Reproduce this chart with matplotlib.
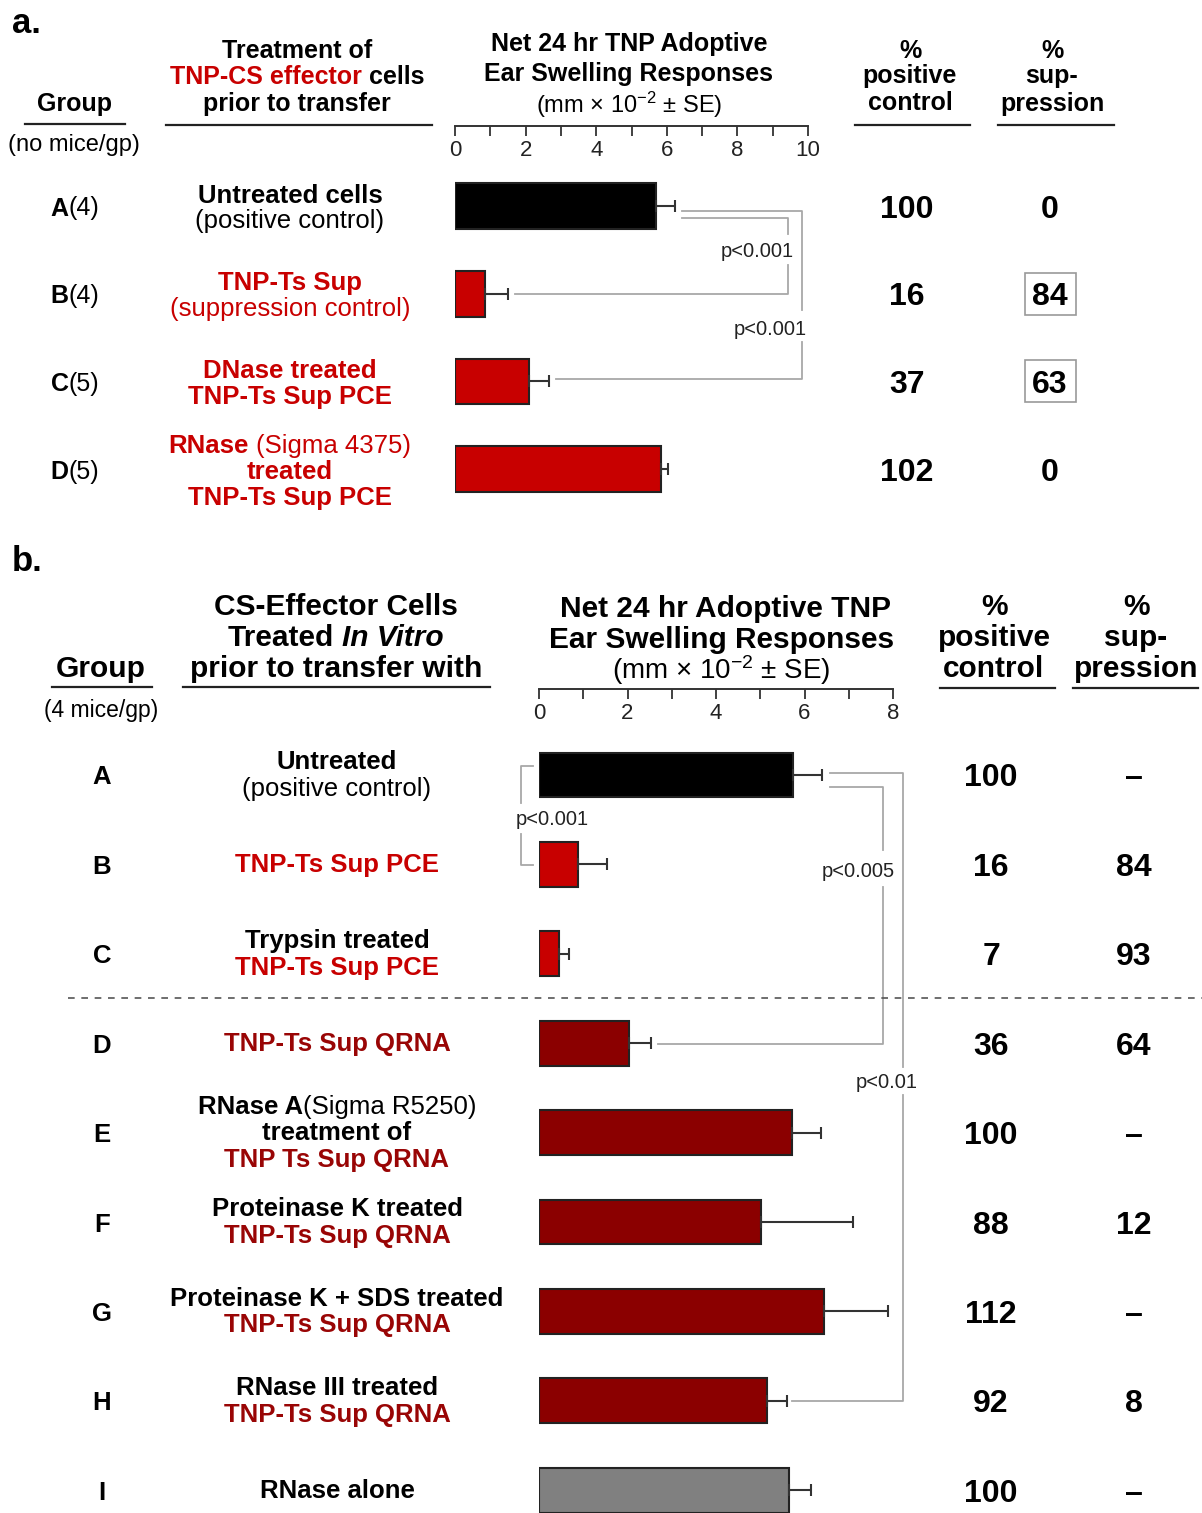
import numpy as np
import matplotlib
matplotlib.use('Agg')
import matplotlib.pyplot as plt
from matplotlib.lines import Line2D
from matplotlib.patches import Rectangle
from matplotlib.transforms import Affine2D, IdentityTransform, blended_transform_factory

plt.rcParams['font.family'] = ['Liberation Sans', 'DejaVu Sans']
plt.rcParams['mathtext.fontset'] = 'custom'
plt.rcParams['mathtext.rm'] = 'Liberation Sans'
plt.rcParams['mathtext.it'] = 'Liberation Sans:italic'
plt.rcParams['mathtext.bf'] = 'Liberation Sans:bold'

W, H = 1202, 1513
RED = '#c80000'
DRED = '#8b0000'
TXT_DRED = '#990505'
GREY_LINE = '#a8a8a8'

# ---------------- data: panel a ----------------
a_groups = ['A', 'B', 'C', 'D']
a_mice = ['(4)', '(4)', '(5)', '(5)']
a_resp = [5.69, 0.85, 2.10, 5.84]
a_se = [0.54, 0.65, 0.57, 0.18]
a_pos = ['100', '16', '37', '102']
a_sup = ['0', '84', '63', '0']
a_boxed = [False, True, True, False]
a_colors = ['black', RED, RED, RED]
a_labels = [
    [[('Untreated cells', 'bold', 'k')], [('(positive control)', 'normal', 'k')]],
    [[('TNP-Ts Sup', 'bold', RED)], [('(suppression control)', 'normal', RED)]],
    [[('DNase treated', 'bold', RED)], [('TNP-Ts Sup PCE', 'bold', RED)]],
    [[('RNase', 'bold', RED), (' (Sigma 4375)', 'normal', RED)],
     [('treated', 'bold', RED)], [('TNP-Ts Sup PCE', 'bold', RED)]],
]

# ---------------- data: panel b ----------------
b_groups = ['A', 'B', 'C', 'D', 'E', 'F', 'G', 'H', 'I']
b_resp = [5.74, 0.88, 0.45, 2.03, 5.72, 5.02, 6.44, 5.15, 5.65]
b_se = [0.66, 0.65, 0.22, 0.50, 0.65, 2.08, 1.45, 0.45, 0.50]
b_pos = ['100', '16', '7', '36', '100', '88', '112', '92', '100']
b_sup = ['\u2013', '84', '93', '64', '\u2013', '12', '\u2013', '8', '\u2013']
b_colors = ['black', RED, RED, DRED, DRED, DRED, DRED, DRED, 'grey']
qrna = ('TNP-Ts Sup QRNA', 'bold', TXT_DRED)
b_labels = [
    [[('Untreated', 'bold', 'k')], [('(positive control)', 'normal', 'k')]],
    [[('TNP-Ts Sup PCE', 'bold', RED)]],
    [[('Trypsin treated', 'bold', 'k')], [('TNP-Ts Sup PCE', 'bold', RED)]],
    [[qrna]],
    [[('RNase A', 'bold', 'k'), ('(Sigma R5250)', 'normal', 'k')],
     [('treatment of', 'bold', 'k')], [('TNP Ts Sup QRNA', 'bold', TXT_DRED)]],
    [[('Proteinase K treated', 'bold', 'k')], [qrna]],
    [[('Proteinase K + SDS treated', 'bold', 'k')], [qrna]],
    [[('RNase III treated', 'bold', 'k')], [qrna]],
    [[('RNase alone', 'bold', 'k')]],
]

fig = plt.figure(figsize=(W / 100, H / 100), dpi=100)
pxT = Affine2D().scale(1, -1).translate(0, H)   # pixel coords, y from top
renderer = fig.canvas.get_renderer()


def add_axes_px(x0, y0, x1, y1):
    return fig.add_axes([x0 / W, 1 - y1 / H, (x1 - x0) / W, (y1 - y0) / H])


def rich(x, y, parts, size, trans=pxT):
    # a centred line made of segments with their own weight / colour / style
    arts, widths = [], []
    for p in parts:
        s, weight, color = p[:3]
        style = p[3] if len(p) > 3 else 'normal'
        lead = 0
        if s.startswith(' '):
            lead = 0.278 * size * 100 / 72
            s = s.lstrip()
        t = fig.text(0, 0, s, fontsize=size, fontweight=weight, color=color,
                     fontstyle=style, ha='left', va='center_baseline')
        arts.append((t, lead))
        widths.append(lead + t.get_window_extent(renderer).width)
    X, Y = trans.transform((x, y))
    cur = X - sum(widths) / 2
    for (t, lead), w in zip(arts, widths):
        t.set_transform(IdentityTransform())
        t.set_position((cur + lead, Y))
        cur += w


def txt(x, y, s, size, weight='bold', color='k', trans=pxT, ha='center'):
    fig.text(x, y, s, fontsize=size, fontweight=weight, color=color,
             ha=ha, va='center_baseline', transform=trans)


def hline(x0, x1, y, lw=1.6):
    fig.add_artist(Line2D([x0, x1], [y, y], transform=pxT, color='#222', lw=lw))


def scale_axis(x0, x1, y, xmax):
    sa = add_axes_px(x0, y, x1, y + 1)
    sa.set_facecolor('none')
    for s in ['top', 'left', 'right']:
        sa.spines[s].set_visible(False)
    sa.spines['bottom'].set_linewidth(1.4)
    sa.spines['bottom'].set_color('#333')
    sa.set_xlim(0, xmax)
    sa.set_yticks([])
    sa.set_xticks(np.arange(0, xmax + 1, 2))
    sa.set_xticks(np.arange(1, xmax, 2), minor=True)
    sa.tick_params(which='both', direction='out', length=7, width=1.3,
                   color='#333', labelsize=16, pad=3, labelcolor='#222')


def bracket(ax, x_top, y_top, x_line, y_bot, x_bot, gap, label, lpos, ha='right'):
    kw = dict(color=GREY_LINE, lw=1.3, clip_on=False)
    ax.plot([x_top, x_line, x_line], [y_top, y_top, gap[0]], **kw)
    ax.plot([x_line, x_line, x_bot], [gap[1], y_bot, y_bot], **kw)
    ax.text(lpos[0], lpos[1], label, ha=ha, va='center_baseline', fontsize=14.5,
            color='#222', clip_on=False)


def bars(ax, resp, se, colors, height):
    rows = np.arange(len(resp))
    ax.barh(rows, resp, height=height, color=colors, edgecolor='#222', linewidth=1.5)
    ax.errorbar(resp, rows, xerr=[np.zeros(len(se)), se], fmt='none', ecolor='#333',
                elinewidth=1.5, capsize=4.5, capthick=1.5)
    ax.axis('off')
    return rows


# =============== panel a ===============
txt(12, 20, 'a.', 25, ha='left')
txt(75, 101, 'Group', 18)
hline(25, 125, 124)
txt(74, 143, '(no mice/gp)', 17, weight='normal')
txt(297, 48, 'Treatment of', 18)
rich(297, 74, [('TNP-CS effector', 'bold', RED), (' cells', 'bold', 'k')], 18)
txt(297, 101, 'prior to transfer', 18)
hline(166, 432, 125)
txt(629, 41, 'Net 24 hr TNP Adoptive', 18)
txt(629, 72, 'Ear Swelling Responses', 18)
txt(629, 101, r'(mm $\times$ 10$^{-2}$ $\pm$ SE)', 17, weight='normal')
for x, words in [(910, ['%', 'positive', 'control']), (1052, ['%', 'sup-', 'pression'])]:
    for y, w in zip([48, 74, 101], words):
        txt(x, y, w, 18)
hline(855, 970, 125)
hline(998, 1114, 125)

axA = add_axes_px(455, 125, 808, 520)
axA.set_xlim(0, 10)
axA.set_ylim((520 - 206) / 87.7, (125 - 206) / 87.7)
rowsA = bars(axA, a_resp, a_se, a_colors, 0.52)
scale_axis(455, 808, 125, 10)

tA = blended_transform_factory(pxT, axA.transData)
for i in rowsA:
    rich(75, i, [(a_groups[i], 'bold', 'k'), (a_mice[i], 'normal', 'k')], 18, trans=tA)
    lines = a_labels[i]
    for k, line in enumerate(lines):
        rich(290, i + (k - (len(lines) - 1) / 2) * 0.296, line, 18.5, trans=tA)
    txt(907, i, a_pos[i], 23, trans=tA)
    txt(1050, i, a_sup[i], 23, trans=tA)
    if a_boxed[i]:
        fig.add_artist(Rectangle((1025, i - 0.24), 51, 0.48, transform=tA,
                                 fill=False, ec='#999999', lw=1.2))

endA = np.add(a_resp, a_se)
bracket(axA, endA[0] + 0.2, 0.14, 9.43, 1.0, endA[1] + 0.2, (0.32, 0.67),
        'p<0.001', (9.6, 0.5))
bracket(axA, endA[0] + 0.2, 0.06, 9.83, 1.97, endA[2] + 0.2, (1.19, 1.55),
        'p<0.001', (9.98, 1.38))

# =============== panel b ===============
txt(12, 558, 'b.', 25, ha='left')
txt(101, 666, 'Group', 21.5)
hline(52, 152, 687)
txt(101, 708, '(4 mice/gp)', 16.5, weight='normal')
txt(336, 604, 'CS-Effector Cells', 21.5)
rich(336, 635, [('Treated', 'bold', 'k'), (' In Vitro', 'bold', 'k', 'italic')], 21.5)
txt(336, 666, 'prior to transfer with', 21.5)
hline(183, 490, 687)
txt(726, 606, 'Net 24 hr Adoptive TNP', 21.5)
txt(722, 637, 'Ear Swelling Responses', 21.5)
txt(721, 666, r'(mm $\times$ 10$^{-2}$ $\pm$ SE)', 20, weight='normal')
for x, words in [(994, ['%', 'positive', 'control']), (1136, ['%', 'sup-', 'pression'])]:
    for y, w in zip([604, 635, 666], words):
        txt(x, y, w, 21.5)
hline(940, 1055, 688)
hline(1073, 1198, 688)

axB = add_axes_px(539, 688, 893, 1513)
axB.set_xlim(0, 8)
axB.set_ylim((1513 - 775) / 89.4, (688 - 775) / 89.4)
rowsB = bars(axB, b_resp, b_se, b_colors, 0.5)
scale_axis(539, 893, 688, 8)

tB = blended_transform_factory(pxT, axB.transData)
for i in rowsB:
    txt(102, i, b_groups[i], 18.5, trans=tB)
    lines = b_labels[i]
    for k, line in enumerate(lines):
        rich(337, i - 0.02 + (k - (len(lines) - 1) / 2) * 0.296, line, 18.5, trans=tB)
    txt(991, i, b_pos[i], 23, trans=tB)
    txt(1134, i, b_sup[i], 23, trans=tB)

fig.add_artist(Line2D([68, 1202], [2.5, 2.5], transform=tB, color='#555',
                      lw=1.2, ls=(0, (4, 4))))

endB = np.add(b_resp, b_se)
bracket(axB, -0.14, -0.1, -0.41, 1.01, -0.14, (0.31, 0.66), 'p<0.001',
        (0.29, 0.48), ha='center')
bracket(axB, endB[0] + 0.18, 0.13, 7.77, 3.01, endB[3] + 0.15, (0.84, 1.25),
        'p<0.005', (8.05, 1.06))
bracket(axB, endB[0] + 0.18, -0.02, 8.23, 7.0, endB[7] + 0.12, (3.27, 3.58),
        'p<0.01', (8.56, 3.42))

fig.savefig('out.png', dpi=100)
